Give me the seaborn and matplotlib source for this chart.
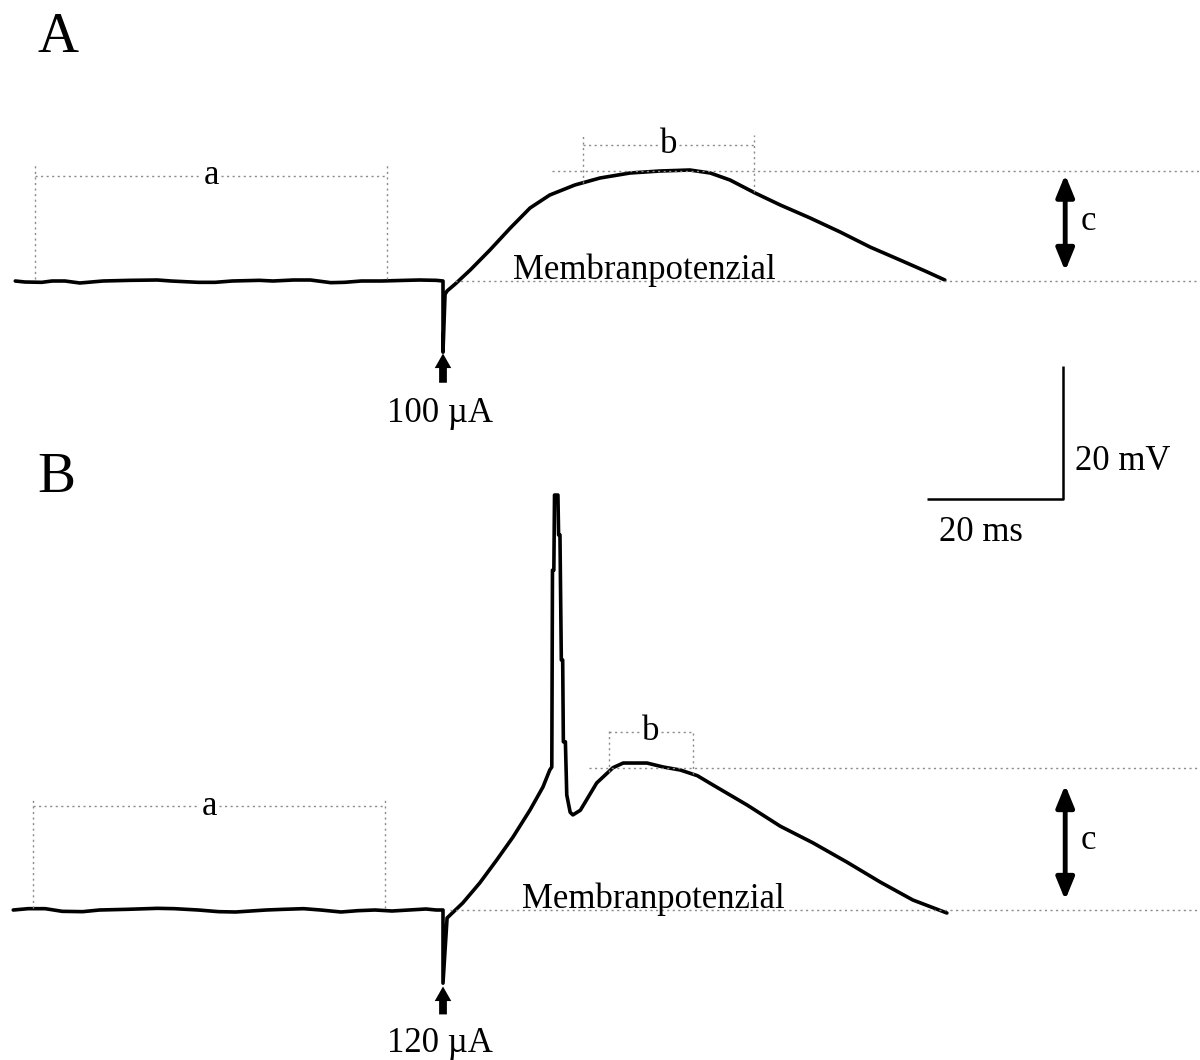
import numpy as np
import pandas as pd
import matplotlib
matplotlib.use("Agg")
import matplotlib.pyplot as plt
import seaborn as sns

# ---------------- data (time in ms relative to stimulus, potential in mV relative to rest)
# Trace A (100 µA stimulus)
t_A = [-62.9, -61.5, -59.0, -57.5, -55.6, -53.4, -50.0, -46.0, -42.0, -40.0, -36.0, -33.5,
       -31.0, -27.0, -25.0, -22.0, -19.5, -16.5, -14.5, -12.0, -9.0, -5.5, -3.5, -1.0,
       0.0, 0.0, 0.3, 0.6, 1.8, 4.0, 6.9, 9.9, 12.8, 15.7, 19.4, 23.1, 27.5, 31.9, 36.3,
       39.3, 42.2, 45.9, 49.6, 54.0, 58.4, 62.8, 67.2, 70.9, 73.8]
v_A = [0.0, -0.15, -0.2, 0.0, 0.0, -0.3, 0.0, 0.1, 0.15, 0.0, -0.2, -0.2,
       0.0, 0.1, 0.0, 0.15, 0.15, -0.25, -0.2, 0.0, 0.0, 0.1, 0.15, 0.1,
       0.0, -10.7, -2.0, -1.5, -0.45, 1.65, 4.66, 7.97, 10.98, 12.93, 14.44, 15.49, 16.24,
       16.54, 16.69, 16.24, 15.19, 13.23, 11.43, 9.47, 7.37, 5.11, 3.16, 1.50, 0.15]

# Trace B (120 µA stimulus, with action potential)
t_B = [-63.2, -61.0, -58.5, -56.0, -53.0, -50.5, -46.5, -42.0, -39.5, -36.0, -33.0, -30.5,
       -26.0, -23.5, -20.5, -18.0, -15.0, -12.5, -10.0, -7.5, -5.0, -2.5, -1.0,
       0.0, 0.0, 0.6, 2.9, 5.4, 7.9, 10.3, 12.8, 14.7, 15.7, 16.0, 16.1, 16.3, 16.4,
       16.5, 16.9, 17.0, 17.2, 17.4, 17.6, 17.7, 18.0, 18.2, 18.7, 19.1, 20.2, 22.6,
       25.0, 26.5, 30.0, 32.4, 34.9, 37.4, 39.7, 44.7, 49.6, 54.4, 59.4, 64.3, 69.1, 74.1]
v_B = [0.0, 0.2, 0.2, -0.2, -0.25, 0.0, 0.1, 0.25, 0.2, 0.0, -0.25, -0.3,
       0.0, 0.1, 0.2, 0.0, -0.3, -0.1, 0.0, -0.15, 0.0, 0.15, 0.0,
       0.0, -11.0, -1.2, 1.05, 4.06, 7.52, 10.98, 15.04, 18.5, 21.05, 21.5, 51.1, 51.1, 62.4,
       62.4, 62.4, 56.4, 56.4, 37.6, 37.6, 25.3, 25.3, 17.3, 14.7, 14.3, 15.0, 19.1,
       21.4, 22.1, 22.1, 21.5, 21.05, 20.2, 18.8, 15.8, 12.6, 10.1, 7.2, 4.2, 1.5, -0.45]

stim_labels = ["100 µA", "120 µA"]
scale_time_ms = 20
scale_volt_mV = 20

# ---------------- layout helpers (pixel scale of the original figure)
W, H = 1200, 1060
PX_PER_MS = 6.8
PX_PER_MV = 6.65
STIM_X = 443
BASE_A_Y = 281
BASE_B_Y = 910

sns.set_theme(style="white")
plt.rcParams["font.family"] = ["Liberation Serif", "DejaVu Serif"]
plt.rcParams["text.color"] = "black"

fig = plt.figure(figsize=(W / 100, H / 100), dpi=100)
axA = fig.add_axes([0, 0, 1, 1])
axB = fig.add_axes([0, 0, 1, 1])
xlim = (-STIM_X / PX_PER_MS, (W - STIM_X) / PX_PER_MS)
for ax, base in ((axA, BASE_A_Y), (axB, BASE_B_Y)):
    ax.set_xlim(*xlim)
    ax.set_ylim(-(H - base) / PX_PER_MV, base / PX_PER_MV)
    ax.axis("off")
    ax.patch.set_alpha(0)

dfA = pd.DataFrame({"t": t_A, "v": v_A})
dfB = pd.DataFrame({"t": t_B, "v": v_B})
sns.lineplot(data=dfA, x="t", y="v", sort=False, estimator=None, color="black",
             lw=2.6, ax=axA)
sns.lineplot(data=dfB, x="t", y="v", sort=False, estimator=None, color="black",
             lw=2.6, ax=axB)

dot = dict(color="#8a8a8a", lw=1.0, ls=(0, (1.5, 2.5)))
FS = 25
xr = xlim[1]


def annotate_panel(ax, t, v, a_rng, a_top, a_h, b_rng, b_top, b_h, peak_y, peak_start,
                   base_start, c_rng, c_x, c_y, stim_rng, stim_text_y, mem_x, label):
    # baseline and peak dotted lines
    ax.plot([base_start, xr], [0, 0], **dot)
    ax.plot([peak_start, xr], [peak_y, peak_y], **dot)
    # bracket a
    ax.plot([a_rng[0], a_rng[0]], [0.3, a_top], **dot)
    ax.plot([a_rng[1], a_rng[1]], [0.3, a_top], **dot)
    amid = (a_rng[0] + a_rng[1]) / 2
    ax.plot([a_rng[0], amid - 1.5], [a_h, a_h], **dot)
    ax.plot([amid + 1.5, a_rng[1]], [a_h, a_h], **dot)
    ax.text(amid, a_h, "a", fontsize=FS, ha="center", va="center")
    # bracket b
    i0 = list(t).index(0.0) + 2
    tb = np.interp(b_rng, t[i0:], v[i0:])
    ax.plot([b_rng[0], b_rng[0]], [tb[0], b_top], **dot)
    ax.plot([b_rng[1], b_rng[1]], [tb[1], b_top], **dot)
    bmid = (b_rng[0] + b_rng[1]) / 2
    ax.plot([b_rng[0], bmid - 1.5], [b_h, b_h], **dot)
    ax.plot([bmid + 1.5, b_rng[1]], [b_h, b_h], **dot)
    ax.text(bmid, b_h, "b", fontsize=FS, ha="center", va="center")
    # c arrow
    ax.annotate("", xy=(c_x, c_rng[1]), xytext=(c_x, c_rng[0]),
                arrowprops=dict(arrowstyle="<|-|>,head_length=1.1,head_width=0.45",
                                color="black", lw=3.5, shrinkA=0, shrinkB=0))
    ax.text(c_x + 2.2, c_y, "c", fontsize=FS, ha="left", va="center")
    # stimulus arrow
    ax.annotate("", xy=(0, stim_rng[0]), xytext=(0, stim_rng[1]),
                arrowprops=dict(arrowstyle="simple,head_length=0.75,head_width=0.85,tail_width=0.4",
                                mutation_scale=14, color="black", lw=0,
                                shrinkA=0, shrinkB=0))
    ax.text(-0.4, stim_text_y, label, fontsize=FS, ha="center", va="baseline")
    ax.text(mem_x, 0.35, "Membranpotenzial", fontsize=FS, ha="left", va="baseline")


annotate_panel(axA, t_A, v_A, a_rng=(-60.0, -8.2), a_top=17.7, a_h=15.8,
               b_rng=(20.6, 45.7), b_top=22.0, b_h=20.5, peak_y=16.55, peak_start=16.0,
               base_start=1.8, c_rng=(1.5, 16.0), c_x=91.5, c_y=8.9,
               stim_rng=(-10.9, -15.3), stim_text_y=-21.2, mem_x=10.3,
               label=stim_labels[0])
annotate_panel(axB, t_B, v_B, a_rng=(-60.3, -8.5), a_top=16.5, a_h=15.6,
               b_rng=(24.4, 36.8), b_top=27.1, b_h=26.8, peak_y=21.35, peak_start=21.5,
               base_start=1.0, c_rng=(1.5, 18.8), c_x=91.5, c_y=10.5,
               stim_rng=(-11.5, -15.7), stim_text_y=-21.4, mem_x=11.6,
               label=stim_labels[1])

# scale bar (in panel A coordinates)
sx = (1063 - STIM_X) / PX_PER_MS
sy = -(366 - BASE_A_Y) / PX_PER_MV
axA.plot([sx, sx, sx - scale_time_ms], [sy, sy - scale_volt_mV, sy - scale_volt_mV],
         color="black", lw=1.8, solid_capstyle="butt")
axA.text(sx + 1.7, sy - scale_volt_mV * 0.72, f"{scale_volt_mV} mV", fontsize=FS,
         ha="left", va="center")
axA.text(sx - scale_time_ms * 0.6, sy - scale_volt_mV - 5.1, f"{scale_time_ms} ms",
         fontsize=FS, ha="center", va="center")

fig.text(37 / W, 1 - 52 / H, "A", fontsize=41, ha="left", va="baseline")
fig.text(37 / W, 1 - 492 / H, "B", fontsize=41, ha="left", va="baseline")

fig.savefig("out.png", dpi=100, facecolor="white")
